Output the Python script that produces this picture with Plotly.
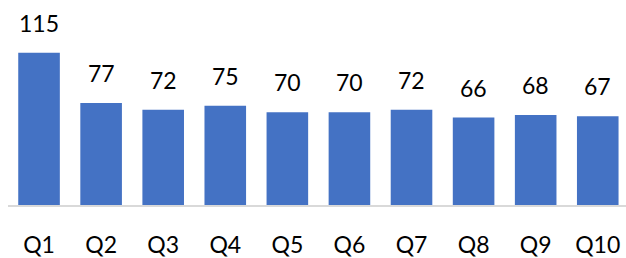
import plotly.graph_objects as go

categories = ["Q1", "Q2", "Q3", "Q4", "Q5", "Q6", "Q7", "Q8", "Q9", "Q10"]
values = [115, 77, 72, 75, 70, 70, 72, 66, 68, 67]

BAR_COLOR = "#4472C4"
FONT = "Lato, Open Sans, sans-serif"

fig = go.Figure()
fig.add_trace(go.Bar(x=categories, y=values, marker=dict(color=BAR_COLOR, line=dict(width=0)),
                     hoverinfo="skip"))

for c, v in zip(categories, values):
    fig.add_annotation(x=c, y=v, text=str(v), showarrow=False, yanchor="bottom",
                       yshift=14, font=dict(family=FONT, size=23, color="#000000"))

fig.update_layout(
    width=626, height=258,
    margin=dict(l=8, r=0, t=0, b=48),
    paper_bgcolor="white", plot_bgcolor="white",
    bargap=0.33,
    showlegend=False,
    xaxis=dict(showline=True, linecolor="#D9D9D9", linewidth=1.5, showgrid=False,
               range=[-0.5, 9.455],
               tickfont=dict(family=FONT, size=23, color="#000000"),
               ticks="", ticklabelstandoff=19, fixedrange=True),
    yaxis=dict(visible=False, range=[0, 154.8], showgrid=False, zeroline=False, fixedrange=True),
)

fig.write_html("out.html", config={"displayModeBar": False},
               post_script="document.body.style.margin='0';document.body.style.overflow='hidden';")
